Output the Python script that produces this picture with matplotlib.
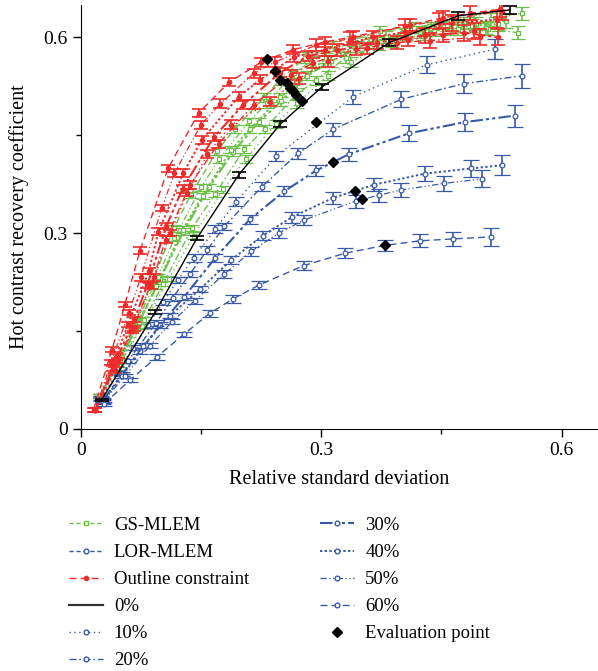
import numpy as np
import matplotlib
matplotlib.use("Agg")
import matplotlib.pyplot as plt
from matplotlib.lines import Line2D
from matplotlib.ticker import MultipleLocator

plt.rcParams['font.family'] = ['Liberation Serif', 'DejaVu Serif']

# ---------------- data ----------------
noise_levels = ['10%', '20%', '30%', '40%', '50%', '60%']

# LOR-MLEM, 0 % (black)
lor0_x = [0.026, 0.093, 0.145, 0.197, 0.249, 0.301, 0.385, 0.471, 0.535]
lor0_y = [0.044, 0.179, 0.292, 0.389, 0.467, 0.524, 0.592, 0.633, 0.642]
lor0_e = [0.002, 0.003, 0.003, 0.004, 0.004, 0.005, 0.005, 0.006, 0.006]

# LOR-MLEM with noise (blue), 10 % ... 60 %
lor_x = [
    [0.025, 0.045, 0.065, 0.084, 0.103, 0.121, 0.141, 0.168, 0.194, 0.244, 0.340, 0.432, 0.517],
    [0.025, 0.059, 0.094, 0.115, 0.136, 0.158, 0.179, 0.226, 0.271, 0.315, 0.400, 0.478, 0.551],
    [0.028, 0.052, 0.074, 0.099, 0.129, 0.168, 0.211, 0.254, 0.294, 0.335, 0.410, 0.479, 0.542],
    [0.028, 0.052, 0.078, 0.111, 0.149, 0.188, 0.227, 0.263, 0.315, 0.366, 0.429, 0.487, 0.526],
    [0.028, 0.055, 0.086, 0.114, 0.142, 0.179, 0.213, 0.247, 0.279, 0.343, 0.372, 0.400, 0.453, 0.501],
    [0.029, 0.062, 0.095, 0.129, 0.161, 0.190, 0.222, 0.278, 0.330, 0.379, 0.423, 0.465, 0.512],
]
lor_y = [
    [0.047, 0.085, 0.124, 0.159, 0.194, 0.228, 0.262, 0.306, 0.348, 0.418, 0.509, 0.558, 0.582],
    [0.046, 0.104, 0.162, 0.201, 0.237, 0.274, 0.310, 0.371, 0.422, 0.459, 0.505, 0.529, 0.541],
    [0.044, 0.084, 0.119, 0.159, 0.202, 0.262, 0.321, 0.364, 0.396, 0.421, 0.453, 0.470, 0.480],
    [0.043, 0.081, 0.127, 0.173, 0.214, 0.259, 0.296, 0.324, 0.354, 0.374, 0.391, 0.399, 0.404],
    [0.041, 0.081, 0.127, 0.164, 0.196, 0.237, 0.272, 0.300, 0.320, 0.349, 0.358, 0.366, 0.376, 0.383],
    [0.038, 0.075, 0.110, 0.145, 0.177, 0.199, 0.220, 0.250, 0.269, 0.281, 0.288, 0.291, 0.294],
]
lor_e = [
    [0.003, 0.003, 0.004, 0.004, 0.005, 0.005, 0.006, 0.006, 0.007, 0.008, 0.011, 0.013, 0.016],
    [0.003, 0.003, 0.004, 0.005, 0.005, 0.006, 0.006, 0.007, 0.008, 0.010, 0.012, 0.015, 0.018],
    [0.003, 0.003, 0.004, 0.004, 0.005, 0.006, 0.007, 0.008, 0.009, 0.010, 0.012, 0.014, 0.017],
    [0.003, 0.003, 0.004, 0.004, 0.005, 0.006, 0.007, 0.008, 0.009, 0.010, 0.012, 0.013, 0.015],
    [0.003, 0.003, 0.004, 0.004, 0.005, 0.006, 0.007, 0.007, 0.008, 0.010, 0.010, 0.011, 0.012, 0.013],
    [0.003, 0.003, 0.004, 0.004, 0.005, 0.006, 0.006, 0.007, 0.008, 0.009, 0.010, 0.011, 0.014],
]

# Outline constraint (red), 10 % ... 60 %
oc_x = [
    [0.018, 0.043, 0.066, 0.088, 0.112, 0.133, 0.158, 0.188, 0.236, 0.272, 0.309, 0.357, 0.408, 0.452, 0.490],
    [0.018, 0.046, 0.064, 0.091, 0.106, 0.136, 0.172, 0.216, 0.262, 0.290, 0.344, 0.394, 0.436, 0.498],
    [0.018, 0.040, 0.067, 0.083, 0.107, 0.127, 0.166, 0.203, 0.249, 0.283, 0.320, 0.370, 0.429, 0.478, 0.520],
    [0.018, 0.044, 0.059, 0.085, 0.097, 0.128, 0.151, 0.197, 0.224, 0.266, 0.305, 0.364, 0.405, 0.463, 0.519],
    [0.018, 0.038, 0.060, 0.075, 0.101, 0.117, 0.150, 0.174, 0.216, 0.242, 0.294, 0.336, 0.404, 0.447, 0.525],
    [0.016, 0.039, 0.055, 0.074, 0.109, 0.147, 0.185, 0.225, 0.265, 0.305, 0.340, 0.411, 0.452, 0.486, 0.523],
]
oc_y = [
    [0.028, 0.090, 0.154, 0.219, 0.300, 0.362, 0.421, 0.466, 0.501, 0.537, 0.563, 0.583, 0.596, 0.604, 0.610],
    [0.028, 0.104, 0.150, 0.232, 0.290, 0.373, 0.437, 0.497, 0.542, 0.561, 0.582, 0.592, 0.595, 0.600],
    [0.028, 0.093, 0.168, 0.220, 0.311, 0.368, 0.447, 0.497, 0.546, 0.571, 0.580, 0.592, 0.603, 0.607, 0.600],
    [0.028, 0.110, 0.160, 0.242, 0.302, 0.392, 0.443, 0.509, 0.535, 0.570, 0.581, 0.600, 0.608, 0.622, 0.627],
    [0.028, 0.102, 0.178, 0.232, 0.338, 0.392, 0.466, 0.498, 0.545, 0.562, 0.588, 0.598, 0.617, 0.625, 0.640],
    [0.029, 0.121, 0.190, 0.273, 0.399, 0.484, 0.531, 0.562, 0.581, 0.593, 0.601, 0.619, 0.630, 0.637, 0.643],
]
oc_e = [
    [0.003, 0.004, 0.004, 0.005, 0.005, 0.006, 0.006, 0.007, 0.007, 0.008, 0.008, 0.009, 0.010, 0.011, 0.012],
    [0.003, 0.004, 0.004, 0.005, 0.005, 0.006, 0.006, 0.007, 0.008, 0.008, 0.009, 0.010, 0.011, 0.012],
    [0.003, 0.004, 0.004, 0.005, 0.005, 0.006, 0.006, 0.007, 0.007, 0.008, 0.009, 0.010, 0.011, 0.012, 0.012],
    [0.003, 0.004, 0.004, 0.005, 0.005, 0.006, 0.006, 0.007, 0.007, 0.008, 0.009, 0.010, 0.011, 0.012, 0.013],
    [0.003, 0.004, 0.004, 0.005, 0.005, 0.006, 0.006, 0.007, 0.007, 0.008, 0.009, 0.010, 0.011, 0.012, 0.013],
    [0.003, 0.004, 0.004, 0.005, 0.005, 0.006, 0.006, 0.007, 0.007, 0.008, 0.008, 0.009, 0.010, 0.011, 0.012],
]

# GS-MLEM (green), 10 % ... 60 %
gs_x = [
    [0.024, 0.051, 0.077, 0.110, 0.141, 0.178, 0.206, 0.243, 0.270, 0.308, 0.337, 0.388, 0.428, 0.478, 0.512, 0.550],
    [0.024, 0.048, 0.079, 0.103, 0.139, 0.168, 0.204, 0.230, 0.268, 0.293, 0.331, 0.372, 0.423, 0.462, 0.508, 0.546],
    [0.024, 0.049, 0.071, 0.099, 0.128, 0.160, 0.190, 0.222, 0.250, 0.282, 0.312, 0.360, 0.406, 0.457, 0.493, 0.530],
    [0.024, 0.045, 0.073, 0.094, 0.127, 0.152, 0.188, 0.211, 0.249, 0.270, 0.306, 0.345, 0.401, 0.441, 0.488, 0.520],
    [0.024, 0.047, 0.067, 0.096, 0.117, 0.150, 0.173, 0.210, 0.232, 0.266, 0.287, 0.340, 0.381, 0.437, 0.470, 0.505],
    [0.024, 0.044, 0.068, 0.088, 0.116, 0.137, 0.170, 0.192, 0.229, 0.248, 0.280, 0.316, 0.373, 0.416, 0.462, 0.490],
]
gs_y = [
    [0.050, 0.104, 0.157, 0.230, 0.296, 0.367, 0.414, 0.467, 0.499, 0.541, 0.562, 0.593, 0.605, 0.622, 0.628, 0.637],
    [0.050, 0.097, 0.167, 0.222, 0.308, 0.360, 0.429, 0.460, 0.511, 0.534, 0.569, 0.588, 0.608, 0.612, 0.613, 0.607],
    [0.050, 0.106, 0.159, 0.229, 0.302, 0.370, 0.424, 0.470, 0.502, 0.541, 0.563, 0.592, 0.605, 0.619, 0.621, 0.625],
    [0.050, 0.093, 0.164, 0.218, 0.305, 0.357, 0.428, 0.459, 0.508, 0.530, 0.568, 0.586, 0.606, 0.611, 0.618, 0.620],
    [0.050, 0.103, 0.155, 0.233, 0.292, 0.370, 0.414, 0.471, 0.499, 0.545, 0.563, 0.594, 0.601, 0.614, 0.613, 0.615],
    [0.050, 0.098, 0.165, 0.222, 0.307, 0.358, 0.426, 0.459, 0.508, 0.534, 0.569, 0.587, 0.609, 0.615, 0.625, 0.625],
]
gs_err = [0.003, 0.003, 0.004, 0.004, 0.005, 0.005, 0.006, 0.006, 0.007, 0.007, 0.008, 0.008, 0.009, 0.009, 0.010, 0.010]

# evaluation points (black diamonds)
eval_x = [0.232, 0.242, 0.249, 0.257, 0.261, 0.265, 0.269, 0.276, 0.293, 0.315, 0.342, 0.351, 0.379]
eval_y = [0.567, 0.549, 0.534, 0.530, 0.522, 0.517, 0.511, 0.502, 0.470, 0.409, 0.365, 0.352, 0.281]

# ---------------- styles ----------------
green = '#6cbf4a'
red = '#ee2a2a'
blue = '#3858a8'
styles = [
    ((0, (1, 2.5)), 1.0),                       # 10 %
    ((0, (5, 2, 1.2, 2)), 1.0),                 # 20 %
    ((0, (6, 1.5, 1.5, 1.5, 1.5, 1.5)), 1.5),   # 30 %
    ((0, (1.2, 1.2)), 1.4),                     # 40 %
    ((0, (5, 2, 1, 2, 1, 2)), 0.9),             # 50 %
    ((0, (5, 3)), 1.0),                         # 60 %
]

fig = plt.figure(figsize=(5.98, 6.71), dpi=100)
ax = fig.add_axes([80.7 / 598, 1 - 428.7 / 671, 516.3 / 598, 424.0 / 671])

cap = 5
for i in range(6):
    ls, lw = styles[i]
    ax.errorbar(gs_x[i], gs_y[i], yerr=gs_err, color=green, ls=ls, lw=lw,
                marker='s', ms=3.2, mfc='white', mec=green, mew=0.9,
                elinewidth=1.2, capsize=cap, capthick=1.2, zorder=3)
for i in range(6):
    ls, lw = styles[i]
    ax.errorbar(oc_x[i], oc_y[i], yerr=oc_e[i], color=red, ls=ls, lw=lw,
                marker='o', ms=3.0, mfc=red, mec=red,
                elinewidth=1.2, capsize=cap, capthick=1.2, zorder=4)
for i in range(6):
    ls, lw = styles[i]
    ax.errorbar(lor_x[i], lor_y[i], yerr=lor_e[i], color=blue, ls=ls, lw=lw,
                marker='o', ms=3.4, mfc='white', mec=blue, mew=0.9,
                elinewidth=1.2, capsize=cap + 1, capthick=1.2, zorder=3)
ax.errorbar(lor0_x, lor0_y, yerr=lor0_e, color='black', ls='-', lw=1.0,
            elinewidth=1.2, capsize=cap, capthick=1.2, zorder=5)
ax.plot(eval_x, eval_y, ls='none', marker='D', ms=5.5, color='black', zorder=6)

ax.set_xlim(0, 0.644)
ax.set_ylim(0, 0.650)
ax.set_xticks([0, 0.3, 0.6])
ax.set_xticklabels(['0', '0.3', '0.6'], fontsize=14)
ax.set_yticks([0, 0.3, 0.6])
ax.set_yticklabels(['0', '0.3', '0.6'], fontsize=14)
ax.xaxis.set_minor_locator(MultipleLocator(0.15))
ax.yaxis.set_minor_locator(MultipleLocator(0.15))
ax.tick_params(which='major', direction='out', length=6, width=1.0)
ax.tick_params(which='minor', direction='out', length=3.5, width=1.0)
for s in ['top', 'right']:
    ax.spines[s].set_visible(False)
ax.set_xlabel('Relative standard deviation', fontsize=14.5, labelpad=8)
ax.set_ylabel('Hot contrast recovery coefficient', fontsize=14.5, labelpad=10)

# legend (proxy handles)
handles = [
    Line2D([], [], color=green, ls=(0, (3, 2)), lw=1.0, marker='s', ms=3.2, mfc='white', mec=green),
    Line2D([], [], color=blue, ls=(0, (3, 2)), lw=1.0, marker='o', ms=3.4, mfc='white', mec=blue),
    Line2D([], [], color=red, ls=(0, (5, 3)), lw=1.0, marker='o', ms=3.0, mfc=red, mec=red),
    Line2D([], [], color='#333333', ls='-', lw=1.6),
]
for i in range(6):
    ls, lw = styles[i]
    handles.append(Line2D([], [], color=blue, ls=ls, lw=lw, marker='o', ms=3.4, mfc='white', mec=blue))
handles.append(Line2D([], [], ls='none', marker='D', ms=5.5, color='black'))
labels = ['GS-MLEM', 'LOR-MLEM', 'Outline constraint', '0%'] + noise_levels + ['Evaluation point']
fig.legend(handles, labels, loc='upper left', bbox_to_anchor=(52 / 598, 1 - 500 / 671),
           ncol=2, frameon=False, fontsize=13.5, handlelength=1.8, handletextpad=0.6,
           columnspacing=3.8, labelspacing=0.53, numpoints=1)

fig.savefig('out.png', dpi=100)
